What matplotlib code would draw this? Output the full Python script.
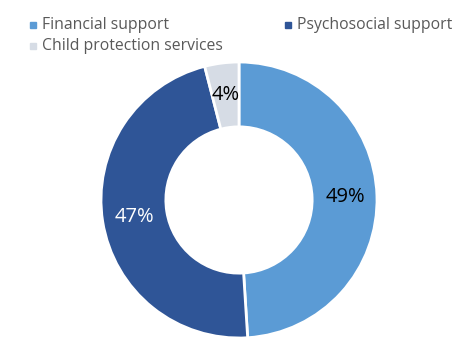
import matplotlib.pyplot as plt
import numpy as np

categories = ['Financial support', 'Psychosocial support', 'Child protection services']
values = [49, 47, 4]
colors = ['#5B9BD5', '#2F5597', '#D6DCE5']
label_colors = ['black', 'white', 'black']

plt.rcParams['font.family'] = ['Open Sans', 'DejaVu Sans']

W, H = 454, 354
fig = plt.figure(figsize=(W / 100, H / 100), dpi=100)

# donut centre (239, 200) px, outer radius 138 px
cx, cy, R = 239, 200, 138
ax = fig.add_axes([(cx - R) / W, (H - cy - R) / H, 2 * R / W, 2 * R / H])

wedges, _ = ax.pie(values, colors=colors, startangle=90, counterclock=False,
                   radius=1.0, wedgeprops=dict(width=0.47, edgecolor='white', linewidth=2))

total = sum(values)
start = 90
for v, c in zip(values, label_colors):
    mid = np.deg2rad(start - v / total * 180)
    start -= v / total * 360
    ax.text(0.77 * np.cos(mid), 0.77 * np.sin(mid), f'{v}%', ha='center', va='center',
            fontsize=14.5, color=c)

ax.set_xlim(-1, 1)
ax.set_ylim(-1, 1)
ax.set_aspect('equal')
ax.axis('off')

# legend
leg_pos = [(33, 25), (288, 25), (33, 46)]
for (lx, ly), name, col in zip(leg_pos, categories, colors):
    fig.patches.append(plt.Rectangle(((lx - 3) / W, (H - ly - 3) / H), 6 / W, 6 / H,
                                     transform=fig.transFigure, color=col))
    fig.text((lx + 9) / W, (H - ly) / H, name, ha='left', va='center',
             fontsize=11.3, color='#595959')

fig.savefig('out.png', dpi=100)
